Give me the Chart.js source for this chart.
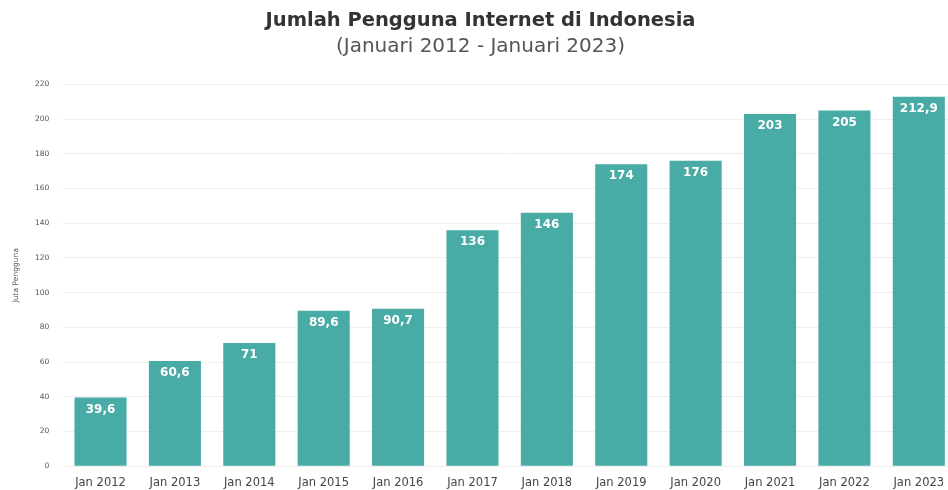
<!DOCTYPE html>
<html>
<head>
<meta charset="utf-8">
<script src="https://cdn.jsdelivr.net/npm/chart.js@4"></script>
<style>
html,body{margin:0;padding:0;background:#fff;overflow:hidden;}
#wrap{width:956px;height:503px;position:relative;}
</style>
</head>
<body>
<div id="wrap"><canvas id="c"></canvas></div>
<script>
const categories = ["Jan 2012","Jan 2013","Jan 2014","Jan 2015","Jan 2016","Jan 2017","Jan 2018","Jan 2019","Jan 2020","Jan 2021","Jan 2022","Jan 2023"];
const users = [39.6, 60.6, 71, 89.6, 90.7, 136, 146, 174, 176, 203, 205, 212.9];
const yTicks = [0,20,40,60,80,100,120,140,160,180,200,220];

const FONT = '"DejaVu Sans", sans-serif';

const labelPlugin = {
  id: 'barLabels',
  afterDatasetsDraw(chart) {
    const ctx = chart.ctx;
    const meta = chart.getDatasetMeta(0);
    ctx.save();
    ctx.fillStyle = '#ffffff';
    ctx.font = 'bold 12px ' + FONT;
    ctx.textAlign = 'center';
    ctx.textBaseline = 'middle';
    meta.data.forEach((bar, i) => {
      const txt = String(users[i]).replace('.', ',');
      ctx.fillText(txt, bar.x, bar.y + 12);
    });
    ctx.restore();
  }
};

new Chart(document.getElementById('c'), {
  type: 'bar',
  data: {
    labels: categories,
    datasets: [{
      data: users,
      backgroundColor: '#49aba5',
      barPercentage: 0.7,
      categoryPercentage: 1.0
    }]
  },
  options: {
    responsive: true,
    maintainAspectRatio: false,
    animation: false,
    layout: { padding: { left: 5, right: 0, top: 7, bottom: 3 } },
    plugins: {
      legend: { display: false },
      tooltip: { enabled: false },
      title: {
        display: true,
        text: 'Jumlah Pengguna Internet di Indonesia',
        color: '#333333',
        font: { family: FONT, size: 19.5, weight: 'bold' },
        padding: { top: 2, bottom: 2 }
      },
      subtitle: {
        display: true,
        text: '(Januari 2012 - Januari 2023)',
        color: '#555555',
        font: { family: FONT, size: 20 },
        padding: { bottom: 26 }
      }
    },
    scales: {
      x: {
        grid: { display: false, drawTicks: false },
        border: { display: false },
        ticks: { color: '#444', font: { family: FONT, size: 11.5 }, maxRotation: 0, padding: 10 }
      },
      y: {
        min: 0, max: 220,
        afterBuildTicks(axis) { axis.ticks = yTicks.map(v => ({ value: v })); },
        grid: { color: '#eeeeee', drawTicks: false },
        border: { display: false },
        ticks: { color: '#555', font: { family: FONT, size: 7.5 }, padding: 14 },
        title: { display: true, text: 'Juta Pengguna', color: '#555', font: { family: FONT, size: 7.5 }, padding: { top: 7, bottom: 0 } }
      }
    }
  },
  plugins: [labelPlugin]
});
</script>
</body>
</html>
